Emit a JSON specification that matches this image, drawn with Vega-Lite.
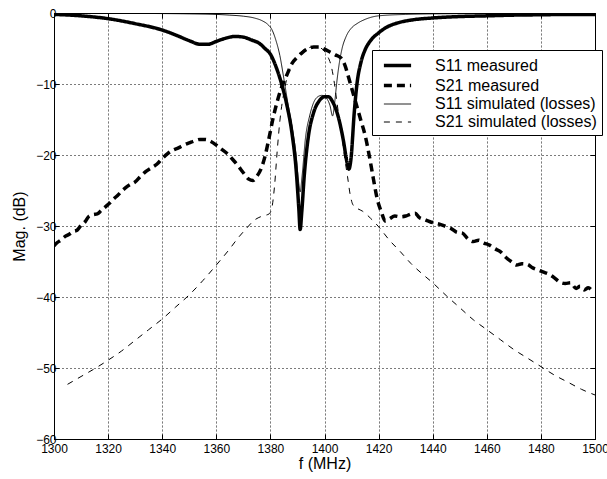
{
  "$schema": "https://vega.github.io/schema/vega-lite/v6.json",
  "width": 541,
  "height": 426,
  "autosize": {"type": "none"},
  "padding": {"left": 54, "top": 13, "right": 12, "bottom": 40},
  "background": "white",
  "config": {
    "view": {"stroke": "#000", "strokeWidth": 1},
    "font": "Liberation Sans",
    "axis": {
      "labelFont": "Liberation Sans", "labelFontSize": 12, "labelColor": "#000",
      "titleFont": "Liberation Sans", "titleFontSize": 16, "titleFontWeight": "normal", "titleColor": "#000",
      "domainColor": "#000", "tickColor": "#000", "tickSize": -5,
      "gridColor": "#444", "gridDash": [1, 3], "gridOpacity": 0.9, "gridWidth": 1
    }
  },
  "data": {"values": [
    {"series":"S11 measured","f":1300,"mag":-0.2},{"series":"S11 measured","f":1310,"mag":-0.4},{"series":"S11 measured","f":1320,"mag":-0.8},{"series":"S11 measured","f":1330,"mag":-1.5},{"series":"S11 measured","f":1340,"mag":-2.4},{"series":"S11 measured","f":1345,"mag":-3.1},{"series":"S11 measured","f":1350,"mag":-3.9},{"series":"S11 measured","f":1354,"mag":-4.4},{"series":"S11 measured","f":1357,"mag":-4.4},{"series":"S11 measured","f":1360,"mag":-4.0},{"series":"S11 measured","f":1363,"mag":-3.6},{"series":"S11 measured","f":1367,"mag":-3.3},{"series":"S11 measured","f":1370,"mag":-3.4},{"series":"S11 measured","f":1373,"mag":-3.8},{"series":"S11 measured","f":1376,"mag":-4.3},{"series":"S11 measured","f":1378,"mag":-5.0},{"series":"S11 measured","f":1380,"mag":-5.8},{"series":"S11 measured","f":1382,"mag":-7.5},{"series":"S11 measured","f":1384,"mag":-9.8},{"series":"S11 measured","f":1386,"mag":-12.8},{"series":"S11 measured","f":1388,"mag":-17},{"series":"S11 measured","f":1389.5,"mag":-22},{"series":"S11 measured","f":1390.5,"mag":-27.5},{"series":"S11 measured","f":1391,"mag":-30.5},{"series":"S11 measured","f":1391.6,"mag":-28},{"series":"S11 measured","f":1392.5,"mag":-23},{"series":"S11 measured","f":1394,"mag":-17.5},{"series":"S11 measured","f":1396,"mag":-14},{"series":"S11 measured","f":1398,"mag":-12.4},{"series":"S11 measured","f":1400,"mag":-11.8},{"series":"S11 measured","f":1401.5,"mag":-11.8},{"series":"S11 measured","f":1403,"mag":-12.5},{"series":"S11 measured","f":1405,"mag":-14.5},{"series":"S11 measured","f":1407,"mag":-18},{"series":"S11 measured","f":1408.3,"mag":-21},{"series":"S11 measured","f":1409,"mag":-22},{"series":"S11 measured","f":1409.8,"mag":-20.5},{"series":"S11 measured","f":1411,"mag":-14},{"series":"S11 measured","f":1412,"mag":-10},{"series":"S11 measured","f":1413.5,"mag":-6.9},{"series":"S11 measured","f":1415,"mag":-5.2},{"series":"S11 measured","f":1417,"mag":-3.9},{"series":"S11 measured","f":1420,"mag":-2.8},{"series":"S11 measured","f":1423,"mag":-2.0},{"series":"S11 measured","f":1427,"mag":-1.4},{"series":"S11 measured","f":1432,"mag":-1.0},{"series":"S11 measured","f":1440,"mag":-0.7},{"series":"S11 measured","f":1450,"mag":-0.5},{"series":"S11 measured","f":1460,"mag":-0.4},{"series":"S11 measured","f":1470,"mag":-0.3},{"series":"S11 measured","f":1480,"mag":-0.25},{"series":"S11 measured","f":1490,"mag":-0.2},{"series":"S11 measured","f":1500,"mag":-0.2},

    {"series":"S21 measured","f":1300,"mag":-32.8},{"series":"S21 measured","f":1301,"mag":-32.4},{"series":"S21 measured","f":1302.5,"mag":-32.0},{"series":"S21 measured","f":1304,"mag":-31.5},{"series":"S21 measured","f":1305.5,"mag":-31.2},{"series":"S21 measured","f":1307,"mag":-30.8},{"series":"S21 measured","f":1308.5,"mag":-30.6},{"series":"S21 measured","f":1310,"mag":-29.9},{"series":"S21 measured","f":1311.5,"mag":-29.4},{"series":"S21 measured","f":1313,"mag":-28.6},{"series":"S21 measured","f":1314.5,"mag":-28.4},{"series":"S21 measured","f":1316,"mag":-28.3},{"series":"S21 measured","f":1317.5,"mag":-27.8},{"series":"S21 measured","f":1319,"mag":-27.3},{"series":"S21 measured","f":1320.5,"mag":-26.8},{"series":"S21 measured","f":1322,"mag":-26.2},{"series":"S21 measured","f":1323.5,"mag":-25.7},{"series":"S21 measured","f":1325,"mag":-25.1},{"series":"S21 measured","f":1326.5,"mag":-24.6},{"series":"S21 measured","f":1328,"mag":-24.2},{"series":"S21 measured","f":1330,"mag":-23.8},{"series":"S21 measured","f":1332,"mag":-23.0},{"series":"S21 measured","f":1334,"mag":-22.3},{"series":"S21 measured","f":1336,"mag":-21.8},{"series":"S21 measured","f":1338,"mag":-21.3},{"series":"S21 measured","f":1340,"mag":-20.5},{"series":"S21 measured","f":1342,"mag":-19.8},{"series":"S21 measured","f":1344,"mag":-19.3},{"series":"S21 measured","f":1346,"mag":-19.0},{"series":"S21 measured","f":1348,"mag":-18.6},{"series":"S21 measured","f":1350,"mag":-18.3},{"series":"S21 measured","f":1352,"mag":-18.0},{"series":"S21 measured","f":1354,"mag":-17.8},{"series":"S21 measured","f":1356,"mag":-17.8},{"series":"S21 measured","f":1358,"mag":-18.1},{"series":"S21 measured","f":1360,"mag":-18.6},{"series":"S21 measured","f":1362,"mag":-19.2},{"series":"S21 measured","f":1364,"mag":-19.8},{"series":"S21 measured","f":1366,"mag":-20.6},{"series":"S21 measured","f":1368,"mag":-21.5},{"series":"S21 measured","f":1370,"mag":-22.5},{"series":"S21 measured","f":1372,"mag":-23.4},{"series":"S21 measured","f":1373.5,"mag":-23.6},{"series":"S21 measured","f":1375,"mag":-23.0},{"series":"S21 measured","f":1376.5,"mag":-22.0},{"series":"S21 measured","f":1378,"mag":-20.2},{"series":"S21 measured","f":1379.5,"mag":-17.6},{"series":"S21 measured","f":1381,"mag":-14.8},{"series":"S21 measured","f":1382.5,"mag":-12.5},{"series":"S21 measured","f":1384,"mag":-10.6},{"series":"S21 measured","f":1386,"mag":-8.8},{"series":"S21 measured","f":1388,"mag":-7.1},{"series":"S21 measured","f":1390,"mag":-6.2},{"series":"S21 measured","f":1392,"mag":-5.5},{"series":"S21 measured","f":1394,"mag":-5.0},{"series":"S21 measured","f":1396,"mag":-4.8},{"series":"S21 measured","f":1398,"mag":-4.8},{"series":"S21 measured","f":1400,"mag":-5.1},{"series":"S21 measured","f":1402,"mag":-5.5},{"series":"S21 measured","f":1404,"mag":-5.9},{"series":"S21 measured","f":1406,"mag":-6.3},{"series":"S21 measured","f":1407.5,"mag":-7.3},{"series":"S21 measured","f":1409,"mag":-9.2},{"series":"S21 measured","f":1410.5,"mag":-11.2},{"series":"S21 measured","f":1412,"mag":-13.2},{"series":"S21 measured","f":1413.5,"mag":-15.2},{"series":"S21 measured","f":1415,"mag":-17.2},{"series":"S21 measured","f":1416.5,"mag":-20.0},{"series":"S21 measured","f":1418,"mag":-23.2},{"series":"S21 measured","f":1419.5,"mag":-26.2},{"series":"S21 measured","f":1421,"mag":-28.0},{"series":"S21 measured","f":1422.5,"mag":-29.3},{"series":"S21 measured","f":1424,"mag":-29.0},{"series":"S21 measured","f":1426,"mag":-28.6},{"series":"S21 measured","f":1428,"mag":-28.7},{"series":"S21 measured","f":1430,"mag":-28.6},{"series":"S21 measured","f":1432,"mag":-28.3},{"series":"S21 measured","f":1433.5,"mag":-28.2},{"series":"S21 measured","f":1435,"mag":-28.8},{"series":"S21 measured","f":1437,"mag":-29.1},{"series":"S21 measured","f":1439,"mag":-29.4},{"series":"S21 measured","f":1441,"mag":-29.6},{"series":"S21 measured","f":1443,"mag":-29.8},{"series":"S21 measured","f":1445,"mag":-30.1},{"series":"S21 measured","f":1447,"mag":-30.4},{"series":"S21 measured","f":1449,"mag":-30.9},{"series":"S21 measured","f":1451,"mag":-31.0},{"series":"S21 measured","f":1453,"mag":-31.8},{"series":"S21 measured","f":1455,"mag":-32.2},{"series":"S21 measured","f":1457,"mag":-32.0},{"series":"S21 measured","f":1459,"mag":-32.4},{"series":"S21 measured","f":1461,"mag":-32.7},{"series":"S21 measured","f":1463,"mag":-33.2},{"series":"S21 measured","f":1465,"mag":-33.6},{"series":"S21 measured","f":1467,"mag":-34.4},{"series":"S21 measured","f":1469,"mag":-35.0},{"series":"S21 measured","f":1471,"mag":-35.5},{"series":"S21 measured","f":1473,"mag":-35.3},{"series":"S21 measured","f":1475,"mag":-35.4},{"series":"S21 measured","f":1477,"mag":-35.9},{"series":"S21 measured","f":1479,"mag":-36.2},{"series":"S21 measured","f":1481,"mag":-36.5},{"series":"S21 measured","f":1483,"mag":-36.8},{"series":"S21 measured","f":1485,"mag":-37.3},{"series":"S21 measured","f":1487,"mag":-37.9},{"series":"S21 measured","f":1489,"mag":-38.1},{"series":"S21 measured","f":1491,"mag":-38.0},{"series":"S21 measured","f":1493,"mag":-38.8},{"series":"S21 measured","f":1494.5,"mag":-38.5},{"series":"S21 measured","f":1496,"mag":-39.0},{"series":"S21 measured","f":1497.5,"mag":-38.7},{"series":"S21 measured","f":1499,"mag":-39.2},

    {"series":"S11 simulated (losses)","f":1300,"mag":-0.05},{"series":"S11 simulated (losses)","f":1320,"mag":-0.05},{"series":"S11 simulated (losses)","f":1340,"mag":-0.08},{"series":"S11 simulated (losses)","f":1350,"mag":-0.12},{"series":"S11 simulated (losses)","f":1360,"mag":-0.2},{"series":"S11 simulated (losses)","f":1365,"mag":-0.3},{"series":"S11 simulated (losses)","f":1370,"mag":-0.45},{"series":"S11 simulated (losses)","f":1374,"mag":-0.7},{"series":"S11 simulated (losses)","f":1377,"mag":-1.1},{"series":"S11 simulated (losses)","f":1379,"mag":-1.6},{"series":"S11 simulated (losses)","f":1380.5,"mag":-2.3},{"series":"S11 simulated (losses)","f":1382,"mag":-3.8},{"series":"S11 simulated (losses)","f":1383.5,"mag":-6.0},{"series":"S11 simulated (losses)","f":1385,"mag":-9.3},{"series":"S11 simulated (losses)","f":1386.5,"mag":-12.8},{"series":"S11 simulated (losses)","f":1388,"mag":-16},{"series":"S11 simulated (losses)","f":1389.5,"mag":-20},{"series":"S11 simulated (losses)","f":1390.5,"mag":-24},{"series":"S11 simulated (losses)","f":1391,"mag":-25.2},{"series":"S11 simulated (losses)","f":1391.7,"mag":-23},{"series":"S11 simulated (losses)","f":1393,"mag":-17.5},{"series":"S11 simulated (losses)","f":1394.5,"mag":-14.5},{"series":"S11 simulated (losses)","f":1396,"mag":-12.6},{"series":"S11 simulated (losses)","f":1397.5,"mag":-11.8},{"series":"S11 simulated (losses)","f":1399,"mag":-11.6},{"series":"S11 simulated (losses)","f":1400.5,"mag":-11.9},{"series":"S11 simulated (losses)","f":1402,"mag":-13.0},{"series":"S11 simulated (losses)","f":1403,"mag":-14.5},{"series":"S11 simulated (losses)","f":1403.8,"mag":-12.5},{"series":"S11 simulated (losses)","f":1404.5,"mag":-9.9},{"series":"S11 simulated (losses)","f":1405.5,"mag":-7.0},{"series":"S11 simulated (losses)","f":1406.5,"mag":-5.0},{"series":"S11 simulated (losses)","f":1408,"mag":-3.3},{"series":"S11 simulated (losses)","f":1410,"mag":-2.1},{"series":"S11 simulated (losses)","f":1412,"mag":-1.5},{"series":"S11 simulated (losses)","f":1415,"mag":-0.9},{"series":"S11 simulated (losses)","f":1420,"mag":-0.4},{"series":"S11 simulated (losses)","f":1430,"mag":-0.2},{"series":"S11 simulated (losses)","f":1440,"mag":-0.12},{"series":"S11 simulated (losses)","f":1460,"mag":-0.08},{"series":"S11 simulated (losses)","f":1480,"mag":-0.05},{"series":"S11 simulated (losses)","f":1500,"mag":-0.05},

    {"series":"S21 simulated (losses)","f":1305,"mag":-52.3},{"series":"S21 simulated (losses)","f":1310,"mag":-51.2},{"series":"S21 simulated (losses)","f":1315,"mag":-50.1},{"series":"S21 simulated (losses)","f":1320,"mag":-48.9},{"series":"S21 simulated (losses)","f":1325,"mag":-47.6},{"series":"S21 simulated (losses)","f":1330,"mag":-46.1},{"series":"S21 simulated (losses)","f":1335,"mag":-44.6},{"series":"S21 simulated (losses)","f":1340,"mag":-43.1},{"series":"S21 simulated (losses)","f":1345,"mag":-41.4},{"series":"S21 simulated (losses)","f":1350,"mag":-39.7},{"series":"S21 simulated (losses)","f":1355,"mag":-37.7},{"series":"S21 simulated (losses)","f":1360,"mag":-35.5},{"series":"S21 simulated (losses)","f":1365,"mag":-33.2},{"series":"S21 simulated (losses)","f":1368,"mag":-31.7},{"series":"S21 simulated (losses)","f":1371,"mag":-30.4},{"series":"S21 simulated (losses)","f":1374,"mag":-29.2},{"series":"S21 simulated (losses)","f":1377,"mag":-28.6},{"series":"S21 simulated (losses)","f":1379.5,"mag":-28.3},{"series":"S21 simulated (losses)","f":1380.5,"mag":-27.5},{"series":"S21 simulated (losses)","f":1381.5,"mag":-24.5},{"series":"S21 simulated (losses)","f":1382.5,"mag":-19.5},{"series":"S21 simulated (losses)","f":1383.5,"mag":-15.2},{"series":"S21 simulated (losses)","f":1385,"mag":-11.2},{"series":"S21 simulated (losses)","f":1387,"mag":-8.0},{"series":"S21 simulated (losses)","f":1389,"mag":-6.4},{"series":"S21 simulated (losses)","f":1391,"mag":-5.6},{"series":"S21 simulated (losses)","f":1393,"mag":-5.1},{"series":"S21 simulated (losses)","f":1395.5,"mag":-4.8},{"series":"S21 simulated (losses)","f":1397.5,"mag":-4.8},{"series":"S21 simulated (losses)","f":1399.5,"mag":-5.2},{"series":"S21 simulated (losses)","f":1401,"mag":-6.0},{"series":"S21 simulated (losses)","f":1402.5,"mag":-7.5},{"series":"S21 simulated (losses)","f":1403.5,"mag":-9.5},{"series":"S21 simulated (losses)","f":1404.5,"mag":-12.3},{"series":"S21 simulated (losses)","f":1405.5,"mag":-15},{"series":"S21 simulated (losses)","f":1406.5,"mag":-17.5},{"series":"S21 simulated (losses)","f":1407.5,"mag":-20.5},{"series":"S21 simulated (losses)","f":1408.5,"mag":-23},{"series":"S21 simulated (losses)","f":1409.5,"mag":-25.6},{"series":"S21 simulated (losses)","f":1410.5,"mag":-27.0},{"series":"S21 simulated (losses)","f":1412,"mag":-27.5},{"series":"S21 simulated (losses)","f":1414,"mag":-27.9},{"series":"S21 simulated (losses)","f":1417,"mag":-28.9},{"series":"S21 simulated (losses)","f":1420,"mag":-30.1},{"series":"S21 simulated (losses)","f":1424,"mag":-32.0},{"series":"S21 simulated (losses)","f":1428,"mag":-33.6},{"series":"S21 simulated (losses)","f":1432,"mag":-35.3},{"series":"S21 simulated (losses)","f":1436,"mag":-36.7},{"series":"S21 simulated (losses)","f":1440,"mag":-38.0},{"series":"S21 simulated (losses)","f":1445,"mag":-39.8},{"series":"S21 simulated (losses)","f":1450,"mag":-41.5},{"series":"S21 simulated (losses)","f":1455,"mag":-43.2},{"series":"S21 simulated (losses)","f":1460,"mag":-44.6},{"series":"S21 simulated (losses)","f":1465,"mag":-46.0},{"series":"S21 simulated (losses)","f":1470,"mag":-47.4},{"series":"S21 simulated (losses)","f":1475,"mag":-48.6},{"series":"S21 simulated (losses)","f":1480,"mag":-49.8},{"series":"S21 simulated (losses)","f":1485,"mag":-51.0},{"series":"S21 simulated (losses)","f":1490,"mag":-52.0},{"series":"S21 simulated (losses)","f":1495,"mag":-53.0},{"series":"S21 simulated (losses)","f":1500,"mag":-53.8}
  ]},
  "layer": [
    {
      "mark": {"type": "line", "interpolate": "monotone", "color": "#000", "clip": true},
      "encoding": {
        "x": {"field": "f", "type": "quantitative", "scale": {"domain": [1300, 1500], "nice": false, "zero": false},
              "axis": {"orient": "bottom", "grid": true, "gridDash": [1, 3], "gridColor": "#444", "format": "d", "values": [1300,1320,1340,1360,1380,1400,1420,1440,1460,1480,1500], "title": "f (MHz)", "labelPadding": 9, "titlePadding": 1, "labelFlush": false, "labelOverlap": false}},
        "y": {"field": "mag", "type": "quantitative", "scale": {"domain": [-60, 0], "nice": false, "zero": false},
              "axis": {"orient": "left", "grid": true, "gridDash": [1, 3], "gridColor": "#444", "format": "d", "values": [-60,-50,-40,-30,-20,-10,0], "title": "Mag. (dB)", "labelPadding": 3, "titlePadding": 8, "labelFlush": false}},
        "detail": {"field": "series"},
        "strokeDash": {"field": "series", "type": "nominal",
          "scale": {"type": "ordinal", "domain": ["S11 measured","S21 measured","S11 simulated (losses)","S21 simulated (losses)"], "range": [[1,0],[8,5],[1,0],[6,6]]},
          "legend": {"orient": "none", "legendX": 318, "legendY": 37, "title": null, "symbolType": "M-1.6,0L1.6,0", "symbolSize": 289, "symbolOffset": 10, "symbolStrokeColor": "#000", "symbolFillColor": "transparent", "labelLimit": 0,
                     "labelFontSize": 16, "labelFont": "Liberation Sans", "labelColor": "#000", "strokeColor": "#000", "fillColor": "#fff", "padding": 5, "rowPadding": 1, "labelOffset": 27}},
        "strokeWidth": {"field": "series", "type": "nominal",
          "scale": {"type": "ordinal", "domain": ["S11 measured","S21 measured","S11 simulated (losses)","S21 simulated (losses)"], "range": [3.5, 3.5, 0.9, 1]},
          "legend": {"orient": "none", "legendX": 318, "legendY": 37, "title": null, "symbolType": "M-1.6,0L1.6,0", "symbolSize": 289, "symbolOffset": 10, "symbolStrokeColor": "#000", "symbolFillColor": "transparent", "labelLimit": 0,
                     "labelFontSize": 16, "labelFont": "Liberation Sans", "labelColor": "#000", "strokeColor": "#000", "fillColor": "#fff", "padding": 5, "rowPadding": 1, "labelOffset": 27}}
      }
    },
    {
      "mark": {"type": "line", "opacity": 0},
      "encoding": {
        "x": {"field": "f", "type": "quantitative", "axis": {"orient": "top", "values": [1300,1320,1340,1360,1380,1400,1420,1440,1460,1480,1500], "labels": false, "grid": true, "gridDash": [1, 3], "gridColor": "#444", "title": null}},
        "y": {"field": "mag", "type": "quantitative", "axis": {"orient": "right", "values": [-60,-50,-40,-30,-20,-10,0], "labels": false, "grid": true, "gridDash": [1, 3], "gridColor": "#444", "title": null}},
        "detail": {"field": "series"}
      }
    }
  ],
  "resolve": {"axis": {"x": "independent", "y": "independent"}}
}
